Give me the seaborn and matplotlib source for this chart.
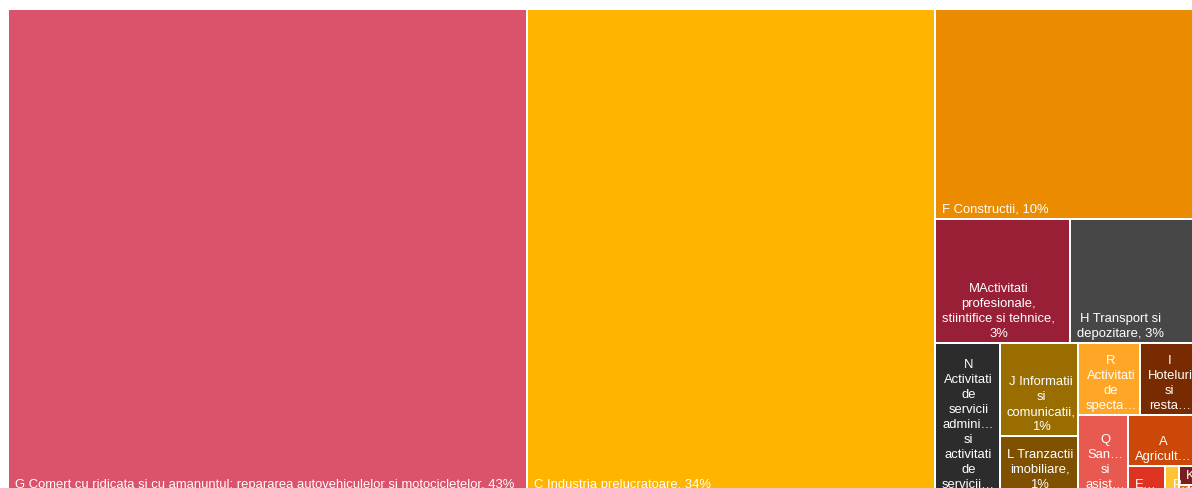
import matplotlib
matplotlib.use('Agg')
import matplotlib.pyplot as plt
from matplotlib.patches import Rectangle
from matplotlib.font_manager import FontProperties
import seaborn as sns

# sectors (NACE sections), largest first
labels = [
    'G Comert cu ridicata si cu amanuntul; repararea autovehiculelor si motocicletelor',
    'C Industria prelucratoare',
    'F Constructii',
    'MActivitati profesionale, stiintifice si tehnice',
    'H Transport si depozitare',
    'N Activitati de servicii administrative si activitati de servicii de suport',
    'J Informatii si comunicatii',
    'L Tranzactii imobiliare',
    'R Activitati de spectacole, culturale si recreative',
    'I Hoteluri si restaurante',
    'Q Sanatate si asistenta sociala',
    'A Agricultura, silvicultura si pescuit',
    'E Distributia apei; salubritate, gestionarea deseurilor, activitati de decontaminare',
    'P Invatamant',
    'K Intermedieri financiare si asigurari',
    'S Alte activitati de servicii',
    'B Industria extractiva',
    'D Productia si furnizarea de energie electrica si termica, gaz, apa calda si aer conditionat',
]
shares = [43.69, 34.34, 9.49, 2.905, 2.712, 1.70, 1.28, 0.785, 0.779, 0.697, 0.69, 0.597,
          0.183, 0.0668, 0.056, 0.017, 0.008, 0.003]
pct_labels = [43, 34, 10, 3, 3, 2, 1, 1, 1, 1, 1, 1, 0, 0, 0, 0, 0, 0]
colors = ['#DB536B', '#FFB500', '#EA8B00', '#991F36', '#474747', '#2C2C2C', '#9A6D00', '#7F5000',
          '#FFA626', '#782A00', '#E85A50', '#CC4808', '#DE3222', '#FFC434', '#781E1E', '#E2700A',
          '#B04A10', '#F5A000']

W_PX, H_PX = 1188, 485
PAD_L, PAD_Y, CAP_H, LINE_H = 7, 7, 9.5, 15
RIGHT_ROOM = 6.5
WIDTH_K = 1.02   # reference font runs a little wider than ours
RATIO = 0.75
FS = 13 * 72 / 100


def squarify(vals, x, y, w, h, ratio=RATIO):
    scale = w * h / sum(vals)
    areas = [v * scale for v in vals]

    def worst(row, side):
        t = sum(row) / side
        return max(max((t * t / a) / ratio, ratio / (t * t / a)) for a in row)

    rects = []
    i = 0
    while i < len(areas):
        side = min(w, h)
        j = i + 1
        best = worst(areas[i:j], side)
        while j < len(areas) and worst(areas[i:j + 1], side) <= best:
            best = worst(areas[i:j + 1], side)
            j += 1
        row = areas[i:j]
        t = sum(row) / side
        if w >= h:
            yy = y
            for a in row:
                rects.append((x, yy, t, a / t))
                yy += a / t
            x += t
            w -= t
        else:
            xx = x
            for a in row:
                rects.append((xx, y, a / t, t))
                xx += a / t
            y += t
            h -= t
        i = j
    return rects


sns.set_theme(style='white')
plt.rcParams['font.family'] = ['Liberation Sans', 'DejaVu Sans']

fig = plt.figure(figsize=(11.92, 4.89), dpi=100)
ax = fig.add_axes([8 / 1192, (489 - 10 - H_PX) / 489, W_PX / 1192, H_PX / 489])
ax.set_xlim(0, W_PX)
ax.set_ylim(H_PX, 0)
ax.set_axis_off()

renderer = fig.canvas.get_renderer()
fp = FontProperties(family='Liberation Sans', size=FS)


def tw(s):
    return renderer.get_text_width_height_descent(s, fp, ismath=False)[0]


def fits(s, avail):
    return tw(s) * WIDTH_K <= avail


def shorten(word, avail):
    for k in range(len(word) - 1, 0, -1):
        if fits(word[:k] + '…', avail):
            return word[:k] + '…'
    return word[:1] + '…'


def fit_lines(text, avail, max_lines):
    lines = []
    cur = None
    for word in text.split(' '):
        if cur is not None and not cur.endswith('…') and fits(cur + ' ' + word, avail):
            cur = cur + ' ' + word
            continue
        if cur is not None:
            lines.append(cur)
        cur = word if fits(word, avail) else shorten(word, avail)
    lines.append(cur)
    if len(lines) > max_lines:
        lines = lines[:max_lines]
        if not lines[-1].endswith('…'):
            last = lines[-1] + '…'
            if not fits(last, avail):
                last = shorten(lines[-1], avail)
            lines[-1] = last
    return lines


rects = squarify(shares, 0, 0, W_PX, H_PX)
for (x, y, w, h), name, pct, color in zip(rects, labels, pct_labels, colors):
    patch = Rectangle((x, y), w, h, facecolor=color, edgecolor='white', linewidth=1.44)
    ax.add_patch(patch)
    if h < 12 or w < 8:
        continue
    max_lines = max(1, int((h - 2 * PAD_Y - CAP_H) // LINE_H) + 1)
    lines = fit_lines(f'{name}, {pct}%', w - RIGHT_ROOM, max_lines)
    block_w = max(tw(s) for s in lines)
    cx = x + PAD_L + block_w / 2
    for k, s in enumerate(reversed(lines)):
        t = ax.text(cx, y + h - PAD_Y - k * LINE_H, s, ha='center', va='baseline',
                    color='white', fontproperties=fp)
        t.set_clip_path(patch)

fig.savefig('out.png', dpi=100)
